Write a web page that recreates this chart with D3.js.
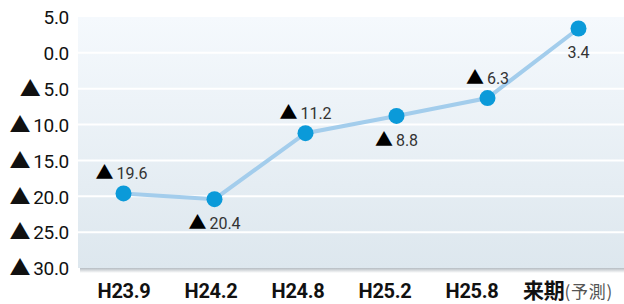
<!DOCTYPE html>
<html>
<head>
<meta charset="utf-8">
<script src="https://cdn.jsdelivr.net/npm/d3@7"></script>
<style>
  body { margin: 0; background: #fff; }
  text { font-family: Roboto, "Noto Sans CJK JP", sans-serif; }
  .tri { font-family: "Noto Sans CJK JP", "DejaVu Sans", sans-serif; }
</style>
</head>
<body>
<svg id="chart"></svg>
<script>
// data
var periods = ['H23.9', 'H24.2', 'H24.8', 'H25.2', 'H25.8', '来期'];
var values = [-19.6, -20.4, -11.2, -8.8, -6.3, 3.4];
var labelPos = ['above', 'below', 'above', 'below', 'above', 'below'];
var yTicks = [5, 0, -5, -10, -15, -20, -25, -30];

var width = 624, height = 304;
var margin = { top: 17, right: 0, bottom: 36, left: 78 };

var svg = d3.select('#chart').attr('width', width).attr('height', height);

var x = d3.scaleBand().domain(periods).range([margin.left, width - margin.right]);
// category labels sit on a slightly tighter spacing than the points
var xLabel = d3.scalePoint().domain(periods).range([123.5, 558.5]);
var y = d3.scaleLinear().domain([5, -30]).range([margin.top, height - margin.bottom]);

// background
var defs = svg.append('defs');
var grad = defs.append('linearGradient').attr('id', 'bg').attr('x1', 0).attr('y1', 0).attr('x2', 0).attr('y2', 1);
grad.append('stop').attr('offset', '0%').attr('stop-color', '#f5f9fd');
grad.append('stop').attr('offset', '100%').attr('stop-color', '#dde7ee');
var shadow = defs.append('linearGradient').attr('id', 'sh').attr('x1', 0).attr('y1', 0).attr('x2', 0).attr('y2', 1);
shadow.append('stop').attr('offset', '0%').attr('stop-color', '#b5bcc2');
shadow.append('stop').attr('offset', '100%').attr('stop-color', '#ffffff');

svg.append('rect')
  .attr('x', margin.left + 2).attr('y', y(-30))
  .attr('width', width - margin.left).attr('height', 5)
  .attr('fill', 'url(#sh)');

svg.append('rect')
  .attr('x', margin.left).attr('y', y(5))
  .attr('width', width - margin.left).attr('height', y(-30) - y(5))
  .attr('fill', 'url(#bg)');

// grid
svg.selectAll('.grid').data(yTicks.slice(1, -1))
  .enter().append('line')
    .attr('x1', margin.left).attr('x2', width)
    .attr('y1', function (d) { return y(d); })
    .attr('y2', function (d) { return y(d); })
    .attr('stroke', '#fff').attr('stroke-width', 2);

// y axis
var yAxis = svg.append('g')
  .attr('transform', 'translate(' + (margin.left - 9) + ',0)')
  .call(d3.axisLeft(y).tickValues(yTicks).tickSize(0).tickPadding(0).tickFormat(''));
yAxis.select('.domain').remove();
yAxis.selectAll('.tick text').each(function (d) {
  var t = d3.select(this).attr('font-size', 19).attr('fill', '#111').attr('dy', '0.36em')
    .style('letter-spacing', '-0.3px');
  if (d < 0) {
    t.append('tspan').text('▲').attr('class', 'tri').attr('font-size', 21);
    t.append('tspan').text(Math.abs(d).toFixed(1)).attr('dx', 3);
  } else {
    t.text(d.toFixed(1));
  }
});

// x axis
var xAxis = svg.append('g')
  .attr('transform', 'translate(0,' + (height - margin.bottom) + ')')
  .call(d3.axisBottom(xLabel).tickSize(0).tickPadding(16).tickFormat(''));
xAxis.select('.domain').remove();
xAxis.selectAll('.tick text').each(function (d) {
  var t = d3.select(this).attr('font-size', 20).attr('fill', '#111').attr('font-weight', 'bold')
    .style('letter-spacing', '-0.3px');
  if (d === '来期') {
    t.attr('text-anchor', 'start').attr('dx', -36);
    t.append('tspan').text(d).attr('font-size', 21).attr('font-family', 'Noto Sans CJK JP');
    t.append('tspan').text('(予測)').attr('font-weight', 'normal').attr('font-size', 17)
      .attr('font-family', 'Noto Sans CJK JP').attr('fill', '#555').style('letter-spacing', '0.8px');
  } else {
    t.text(d);
  }
});

// line
var cx = function (d, i) { return x(periods[i]) + x.bandwidth() / 2; };
var line = d3.line().x(cx).y(function (d) { return y(d); });

svg.append('path')
  .datum(values)
  .attr('d', line)
  .attr('fill', 'none')
  .attr('stroke', '#a3cdec')
  .attr('stroke-width', 4);

svg.selectAll('.dot').data(values)
  .enter().append('circle')
    .attr('cx', cx)
    .attr('cy', function (d) { return y(d); })
    .attr('r', 8)
    .attr('fill', '#0b9ad9');

// labels
svg.selectAll('.lbl').data(values)
  .enter().append('text')
    .attr('x', function (d, i) { return cx(d, i) + (i === 0 ? -2 : 0); })
    .attr('y', function (d, i) { return y(d) + (labelPos[i] === 'above' ? -14 : 30); })
    .attr('text-anchor', 'middle')
    .attr('font-size', 16)
    .attr('fill', '#333')
    .each(function (d) {
      var t = d3.select(this);
      if (d < 0) {
        t.append('tspan').text('▲').attr('class', 'tri').attr('fill', '#000').attr('font-size', 18);
        t.append('tspan').text(Math.abs(d).toFixed(1)).attr('dx', 3);
      } else {
        t.text(d.toFixed(1));
      }
    });
</script>
</body>
</html>
